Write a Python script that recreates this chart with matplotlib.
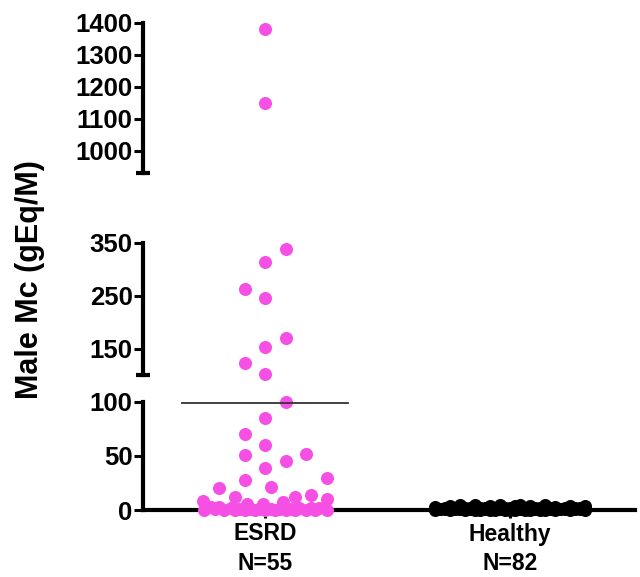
import numpy as np
import matplotlib
matplotlib.use("Agg")
import matplotlib.pyplot as plt

plt.rcParams['font.family'] = ['Liberation Sans', 'DejaVu Sans']
plt.rcParams['font.weight'] = 'bold'

groups = ['ESRD', 'Healthy']
group_n = ['N=55', 'N=82']

esrd = [1380, 1150,
        338, 313, 262, 246, 170, 153, 122, 102,
        100, 85, 70, 60, 52, 50.5, 45, 39, 30, 28, 21, 20, 14,
        12, 12, 10, 8, 7, 6, 6,
        3, 2.5, 2, 2, 1.5, 1.5, 1, 1, 1, 0.8, 0.7, 0.5, 0.5,
        0.4, 0.3, 0.3, 0.2, 0.2, 0.1, 0.1, 0.1, 0, 0, 0, 0]
healthy = [4, 1, 0.5, 2, 1.5, 0.2, 4.5, 1, 0.8, 0.3, 1.2, 2.5, 0.6, 0.1, 4, 1.8,
           0.9, 0.4, 1.1, 0.7, 5, 1.3, 0.2, 0.5, 2.2, 1.6, 0.9, 0.3, 4.2, 1.4,
           0.8, 0.6, 1.9, 0.2, 1, 0.4, 3.8, 1.2, 0.7, 0.5, 2.1, 0.9, 0.3, 1.5,
           4.6, 0.6, 1.1, 0.2, 1.7, 0.8, 0.4, 2.4, 1.3, 0.5, 3.9, 1, 0.7, 0.1,
           1.6, 0.9, 0.3, 2, 4.4, 1.2, 0.6, 0.4, 1.8, 0.8, 0.2, 1.4, 3.5, 1.1,
           0.5, 0.9, 2.3, 0.3, 1.5, 0.7, 4.1, 1, 0.6, 0.2]
means = [99, 1.2]

W, H = 640, 577
fig = plt.figure(figsize=(W / 100, H / 100), dpi=100)

left, width = 143 / W, 492 / W
xlim = (0.502, 2.51)
# (ylim, bottom px, top px) measured from the top of the picture
segs = [((0, 100), 510, 401.7),
        ((100, 350), 375, 242.7),
        ((930, 1400), 173, 22.7)]
ticks = [[0, 50, 100], [150, 250, 350], [1000, 1100, 1200, 1300, 1400]]

axes = []
for (lo, hi), pb, pt in segs:
    ax = fig.add_axes([left, 1 - pb / H, width, (pb - pt) / H])
    ax.set_ylim(lo, hi)
    ax.set_xlim(*xlim)
    ax.patch.set_alpha(0)
    axes.append(ax)


def to_px(v):
    for ax, ((lo, hi), pb, pt) in zip(axes, segs):
        if v <= hi:
            return pb - (v - lo) / (hi - lo) * (pb - pt), ax
    return segs[-1][2], axes[-1]


def swarm(ys, d, col, step, maxw):
    # try whole columns first, then a finer grid where the dots must overlap
    cols = sorted(np.arange(-3, 4) * col, key=lambda c: (abs(c), c))
    cols = [c for c in cols if abs(c) <= maxw + 0.1]
    fine = sorted(np.arange(-maxw, maxw + 0.01, step), key=lambda c: (abs(c), c))
    placed = []
    offs = np.zeros(len(ys))
    side = -1
    for i in np.argsort(-ys, kind='stable'):
        y = ys[i]
        best, score = None, -1
        for c in cols:
            c = c * side
            md = min([np.hypot(c - px, y - py) for px, py in placed], default=1e9)
            if md >= d:
                best = c
                break
        if best is None:
            for c in fine:
                md = min([np.hypot(c - px, y - py) for px, py in placed], default=1e9)
                if md > score:
                    score, best = md, c
        elif best != 0:
            side = -side
        offs[i] = best
        placed.append((best, y))
    return offs


xpx = width * W / (xlim[1] - xlim[0])
colors = ['#F550E3', 'black']
for gi, vals in enumerate([esrd, healthy]):
    info = [to_px(v) for v in vals]
    ys = np.array([p for p, _ in info])
    if gi == 0:
        offs = swarm(ys, 19, 20.5, 4, 62)
    else:
        offs = swarm(ys, 13, 15, 5, 75)
    for v, (p, ax), o in zip(vals, info, offs):
        ax.plot(gi + 1 + o / xpx, v, 'o', color=colors[gi], ms=9.4, mew=0,
                clip_on=False, zorder=3)

axes[0].plot([1 - 0.337, 1 + 0.337], [means[0], means[0]], color='#333333', lw=1.3, zorder=4)
axes[0].plot([2 - 0.337, 2 + 0.337], [means[1], means[1]], color='#333333', lw=1.3, zorder=2)

for i, ax in enumerate(axes):
    for s in ['top', 'right']:
        ax.spines[s].set_visible(False)
    ax.spines['left'].set_linewidth(3)
    ax.set_yticks(ticks[i])
    ax.tick_params(axis='y', length=6.5, width=2.2, pad=1, labelsize=18.5)
    if i == 0:
        ax.spines['bottom'].set_linewidth(3)
        ax.set_xticks([1, 2])
        ax.set_xticklabels([g + '\n' + n for g, n in zip(groups, group_n)],
                           linespacing=1.35)
        ax.tick_params(axis='x', length=6, width=2.2, pad=3, labelsize=16.5)
    else:
        ax.spines['bottom'].set_visible(False)
        ax.set_xticks([])
        # end cap at the lower end of the broken segment
        ax.plot([-0.014, 0.014], [ax.get_ylim()[0]] * 2, color='black', lw=3,
                transform=ax.get_yaxis_transform(), clip_on=False, solid_capstyle='butt')

fig.text(30 / W, 1 - 280 / H, 'Male Mc (gEq/M)', rotation=90, ha='center', va='center',
         fontsize=22, fontweight='bold')

fig.savefig('out.png', dpi=100)
